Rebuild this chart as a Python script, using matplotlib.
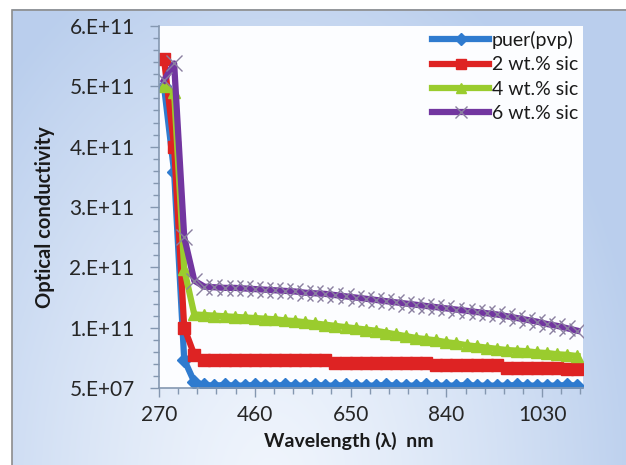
import numpy as np
import matplotlib
matplotlib.use("Agg")
import matplotlib.pyplot as plt
from matplotlib.patches import Rectangle

plt.rcParams['font.family'] = ['Lato', 'DejaVu Sans']

# ---------------- data ----------------
wavelength = [280, 300, 320, 340, 360, 380, 400, 420, 440, 460, 480, 500, 520, 540,
              560, 580, 600, 620, 640, 660, 680, 700, 720, 740, 760, 780, 800, 820,
              840, 860, 880, 900, 920, 940, 960, 980, 1000, 1020, 1040, 1060, 1080, 1100]

# values in units of 1e11
pure_pvp = [5.00, 3.58, 0.47, 0.10, 0.05, 0.04, 0.05, 0.04, 0.04, 0.05, 0.04, 0.04, 0.05, 0.04,
            0.04, 0.05, 0.04, 0.04, 0.05, 0.04, 0.04, 0.04, 0.05, 0.04, 0.04, 0.04, 0.05, 0.04,
            0.04, 0.04, 0.05, 0.04, 0.04, 0.04, 0.04, 0.05, 0.04, 0.04, 0.04, 0.04, 0.05, 0.04]
sic_2 = [5.45, 4.00, 1.00, 0.55, 0.46, 0.46, 0.46, 0.46, 0.46, 0.46, 0.46, 0.46, 0.46, 0.46,
         0.46, 0.46, 0.46, 0.42, 0.42, 0.42, 0.42, 0.42, 0.42, 0.42, 0.42, 0.42, 0.42, 0.38,
         0.38, 0.38, 0.38, 0.38, 0.38, 0.38, 0.34, 0.34, 0.34, 0.34, 0.34, 0.34, 0.31, 0.31]
sic_4 = [5.00, 4.90, 1.97, 1.22, 1.21, 1.20, 1.19, 1.18, 1.17, 1.16, 1.15, 1.14, 1.12, 1.11,
         1.09, 1.07, 1.05, 1.03, 1.01, 0.99, 0.97, 0.95, 0.92, 0.89, 0.86, 0.83, 0.81, 0.79,
         0.76, 0.74, 0.71, 0.69, 0.67, 0.65, 0.63, 0.62, 0.61, 0.59, 0.58, 0.56, 0.55, 0.53]
sic_6 = [5.10, 5.38, 2.50, 1.78, 1.68, 1.67, 1.66, 1.66, 1.65, 1.64, 1.63, 1.62, 1.61, 1.60,
         1.58, 1.57, 1.56, 1.54, 1.52, 1.50, 1.48, 1.46, 1.44, 1.42, 1.40, 1.38, 1.36, 1.34,
         1.32, 1.30, 1.28, 1.26, 1.24, 1.22, 1.19, 1.16, 1.13, 1.10, 1.06, 1.03, 0.99, 0.95]

series_names = ["puer(pvp)", "2 wt.% sic", "4 wt.% sic", "6 wt.% sic"]
y_tick_labels = ["5.E+07", "1.E+11", "2.E+11", "3.E+11", "4.E+11", "5.E+11", "6.E+11"]
x_tick_labels = ["270", "460", "650", "840", "1030"]

# ---------------- figure ----------------
W, H = 626, 465
fig = plt.figure(figsize=(W / 100, H / 100), dpi=100)
fig.patch.set_facecolor('white')

# background chart area gradient
bg = fig.add_axes([0, 0, 1, 1], zorder=-10)
bg.set_axis_off()
yy, xx = np.mgrid[0:1:200j, 0:1:300j]  # yy=0 top
dist = np.sqrt(((xx - 0.42) / 0.62) ** 2 + ((1.05 - yy) / 1.25) ** 2)
t = np.clip(dist, 0, 1) ** 1.3
dark = np.array([0.73, 0.81, 0.93])
light = np.array([0.94, 0.96, 0.99])
img = light[None, None, :] * (1 - t[..., None]) + dark[None, None, :] * t[..., None]
x0, y0 = 12 / W, 1 - 10 / H
bg.imshow(img, extent=[x0, 1.0, 0.0, y0], aspect='auto', origin='upper')
bg.set_xlim(0, 1)
bg.set_ylim(0, 1)
bg.add_patch(Rectangle((x0, -0.01), 1.0, y0 + 0.01, fill=False,
                       edgecolor='#8C8C8C', lw=1.2))

# main axes
L, R, B, T = 159, 583, 388, 26
ax = fig.add_axes([L / W, 1 - B / H, (R - L) / W, (B - T) / H])
ax.set_facecolor('#FCFDFF')

scale = 1e11
colors = ['#2F7BCF', '#DE2323', '#9ACC2E', '#7236A0']

ax.plot(wavelength, np.array(pure_pvp) * scale, color=colors[0], lw=4.5,
        marker='D', ms=7, mfc=colors[0], mec=colors[0], label=series_names[0])
ax.plot(wavelength, np.array(sic_2) * scale, color=colors[1], lw=4.5,
        marker='s', ms=8.5, mfc=colors[1], mec=colors[1], label=series_names[1])
ax.plot(wavelength, np.array(sic_4) * scale, color=colors[2], lw=4.5,
        marker='^', ms=9, mfc=colors[2], mec=colors[2], label=series_names[2])
ax.plot(wavelength, np.array(sic_6) * scale, color=colors[3], lw=4.5,
        marker='x', ms=11, mec='#8A7FA0', mew=1.0, label=series_names[3])

ymin = 5e7
ax.set_ylim(ymin, ymin + 6e11)
ax.set_xlim(270, 1111)

ax.set_yticks([ymin + k * 1e11 for k in range(7)])
ax.set_yticklabels(y_tick_labels)
ax.set_yticks([ymin + k * 2e10 for k in range(31)], minor=True)
ax.set_xticks([270, 460, 650, 840, 1030])
ax.set_xticklabels(x_tick_labels)
ax.set_xticks([270 + k * 38 for k in range(23)], minor=True)

for s in ['top', 'right']:
    ax.spines[s].set_visible(False)
for s in ['left', 'bottom']:
    ax.spines[s].set_color('#8497B0')
    ax.spines[s].set_linewidth(1.2)

ax.tick_params(axis='both', which='major', length=6.5, width=1, color='#8497B0',
               labelsize=15, labelcolor='#262626', direction='out')
ax.tick_params(axis='both', which='minor', length=4.5, width=1, color='#8497B0',
               direction='out')
ax.tick_params(axis='y', which='major', pad=11)
ax.tick_params(axis='x', which='major', pad=6)

fig.text(45 / W, 1 - 217 / H, "Optical conductivity", rotation=90, ha='center',
         va='center', fontsize=14.5, fontweight='bold', color='#1A1A1A')
fig.text(349 / W, 1 - 441 / H, "Wavelength (\u03bb)  nm", ha='center', va='center',
         fontsize=14, fontweight='bold', color='#1A1A1A')

leg = ax.legend(loc='upper right', bbox_to_anchor=(578 / W, 1 - 31 / H),
                bbox_transform=fig.transFigure, frameon=False, fontsize=14,
                handlelength=2.9, handletextpad=0.15, labelspacing=0.38,
                numpoints=1, borderaxespad=0, borderpad=0, markerscale=0.85)
for txt in leg.get_texts():
    txt.set_color('#1A1A1A')

fig.savefig('out.png', dpi=100)
